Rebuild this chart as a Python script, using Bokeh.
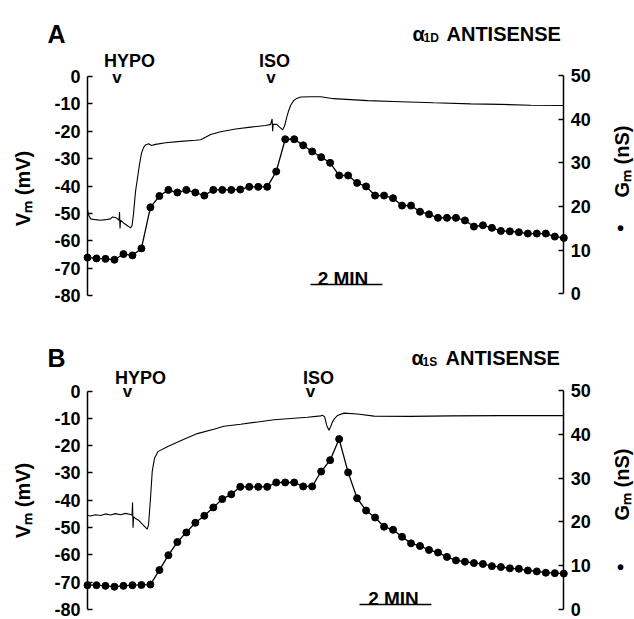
import math
from bokeh.plotting import figure
from bokeh.models import Range1d, LinearAxis, Label, FixedTicker
from bokeh.embed import file_html
from bokeh.resources import INLINE

FONT = "Liberation Sans"

# ---------------- data ----------------
# Gm sampled every 15 s (0.25 min), 54 samples, in minutes
gm_time = [i * 0.25 for i in range(54)]

gm_a = [8.3, 8.1, 8.0, 7.8, 9.1, 8.8, 10.4, 19.8, 22.4, 23.8,
        23.2, 23.8, 23.2, 22.5, 23.8, 23.8, 23.8, 23.9, 24.5, 24.5,
        24.5, 28.0, 35.4, 35.4, 34.0, 32.6, 31.3, 30.0, 27.1, 27.1,
        25.4, 24.6, 22.5, 22.5, 21.9, 20.2, 20.2, 18.8, 18.2, 17.4,
        17.4, 17.4, 16.8, 15.4, 15.7, 15.1, 14.4, 14.3, 14.1, 13.8,
        13.8, 13.8, 13.1, 12.8]

gm_b = [5.55, 5.55, 5.4, 5.2, 5.4, 5.55, 5.6, 5.7, 9.0, 12.4,
        15.4, 17.6, 19.8, 21.4, 23.3, 25.2, 26.3, 28.0, 28.0, 28.0,
        28.0, 29.0, 29.0, 29.0, 28.1, 28.1, 31.5, 34.1, 38.9, 31.3,
        25.4, 22.6, 21.0, 18.9, 18.2, 16.6, 15.1, 14.5, 13.6, 13.0,
        12.0, 11.2, 10.9, 10.6, 10.4, 9.9, 9.7, 9.4, 9.3, 8.9,
        8.7, 8.4, 8.3, 8.2]

# membrane potential trace, panel A (time in min, Vm in mV)
vm_a_t = [0.000, 0.028, 0.084, 0.223, 0.362, 0.501, 0.640, 0.696, 0.780, 0.835,
          0.877, 0.891, 0.905, 0.919, 1.002, 1.114, 1.197, 1.239, 1.281, 1.336,
          1.392, 1.448, 1.503, 1.559, 1.615, 1.698, 1.782, 1.893, 2.172, 2.589,
          3.007, 3.146, 3.285, 3.424, 3.703, 4.120, 4.538, 4.955, 5.095, 5.136,
          5.150, 5.164, 5.262, 5.345, 5.429, 5.484, 5.540, 5.596, 5.652, 5.735,
          5.819, 5.930, 6.208, 6.487, 6.849, 7.795, 8.714, 9.633, 10.663, 11.498,
          12.333, 13.252]
vm_a_v = [-48.5, -50.5, -52.0, -52.3, -52.5, -52.3, -52.0, -51.3, -51.5, -52.0,
          -52.5, -49.5, -55.5, -52.5, -53.5, -54.5, -55.3, -54.5, -50.0, -42.0,
          -37.0, -32.0, -28.0, -26.0, -25.0, -24.6, -25.2, -24.8, -24.2, -23.7,
          -23.3, -23.1, -22.2, -21.2, -20.2, -19.2, -18.5, -17.9, -17.5, -15.5,
          -20.0, -17.5, -17.5, -18.5, -19.5, -18.0, -15.0, -12.5, -10.5, -8.8,
          -8.0, -7.5, -7.4, -7.4, -8.1, -8.8, -9.2, -9.6, -10.0, -10.2,
          -10.5, -10.6]

# membrane potential trace, panel B
vm_b_t = [0.000, 0.084, 0.223, 0.362, 0.501, 0.640, 0.780, 0.919, 1.058, 1.197,
          1.239, 1.253, 1.267, 1.281, 1.336, 1.420, 1.503, 1.587, 1.662, 1.698,
          1.754, 1.801, 1.865, 1.957, 2.219, 2.589, 3.054, 3.516, 3.795, 4.259,
          5.187, 6.116, 6.487, 6.542, 6.598, 6.654, 6.718, 6.765, 6.813, 6.877,
          6.952, 7.136, 7.508, 7.971, 8.992, 10.106, 11.498, 13.252]
vm_b_v = [-45.5, -45.8, -45.3, -45.6, -45.0, -45.4, -44.9, -45.3, -44.8, -45.2,
          -45.5, -40.8, -50.1, -46.0, -46.7, -47.3, -48.5, -49.6, -50.6, -49.0,
          -39.0, -29.4, -24.6, -22.2, -20.4, -18.2, -15.6, -14.0, -12.9, -12.2,
          -10.5, -9.6, -9.1, -8.9, -9.5, -12.6, -14.4, -13.0, -11.4, -10.0,
          -9.0, -8.1, -8.4, -9.2, -9.3, -9.1, -9.0, -9.0]

vm_ticks = [-80, -70, -60, -50, -40, -30, -20, -10, 0]
vm_tick_labels = ["-80", "-70", "-60", "-50", "-40", "-30", "-20", "-10", "0"]
gm_ticks = [0, 10, 20, 30, 40, 50]
gm_tick_labels = ["0", "10", "20", "30", "40", "50"]

T_MAX = 13.25
SCALE_MIN = 2.0

# ---------------- layout (pixels) ----------------
W, H = 634, 619
X0, X1 = 87.0, 563.3          # pixel x of t=0 and t=T_MAX
K = (X1 - X0) / T_MAX


def yrange(top_px, bot_px, lo, hi):
    s = (hi - lo) / (bot_px - top_px)
    return Range1d(lo - (H - bot_px) * s, hi + top_px * s)


p = figure(width=W, height=H, output_backend="svg", toolbar_location=None,
           x_range=Range1d(-X0 / K, (W - X0) / K),
           y_range=yrange(76.0, 295.0, -80, 0),
           x_axis_type=None, y_axis_type=None,
           min_border=0, min_border_left=0, min_border_right=0,
           min_border_top=0, min_border_bottom=0)
p.outline_line_color = None
p.background_fill_color = "white"
p.border_fill_color = "white"
p.extra_y_ranges = {
    "gmA": yrange(75.0, 293.3, 0, 50),
    "vmB": yrange(390.5, 609.0, -80, 0),
    "gmB": yrange(390.0, 609.0, 0, 50),
    "px": Range1d(H, 0),
}
p.extra_x_ranges = {"px": Range1d(0, W)}


def add_axis(side, rng, loc, ticks, labels, bounds):
    ax = LinearAxis(y_range_name=rng, fixed_location=loc, bounds=bounds,
                    ticker=FixedTicker(ticks=ticks),
                    major_label_overrides=dict(zip(ticks, labels)))
    ax.axis_line_width = 1.5
    ax.axis_line_color = "black"
    ax.major_tick_in = 5
    ax.major_tick_out = 0
    ax.major_tick_line_width = 1.5
    ax.major_tick_line_color = "black"
    ax.minor_tick_line_color = None
    ax.major_label_text_font = FONT
    ax.major_label_text_font_size = "18px"
    ax.major_label_text_font_style = "bold"
    ax.major_label_text_color = "black"
    ax.major_label_standoff = 7
    p.add_layout(ax, side)


add_axis("left", "default", 0, vm_ticks, vm_tick_labels, (-80, 0))
add_axis("right", "gmA", T_MAX, gm_ticks, gm_tick_labels, (0, 50))
add_axis("left", "vmB", 0, vm_ticks, vm_tick_labels, (-80, 0))
add_axis("right", "gmB", T_MAX, gm_ticks, gm_tick_labels, (0, 50))

# traces and conductance
p.line(vm_a_t, vm_a_v, line_color="black", line_width=1.1)
p.line(vm_b_t, vm_b_v, y_range_name="vmB", line_color="black", line_width=1.1)
for gm, rng in ((gm_a, "gmA"), (gm_b, "gmB")):
    p.line(gm_time, gm, y_range_name=rng, line_color="black", line_width=1.3)
    p.scatter(gm_time, gm, y_range_name=rng, size=7, marker="circle",
              fill_color="black", line_color="black")


def txt(px, py, s, size, align="left", baseline="alphabetic", angle=0.0, style="bold"):
    p.add_layout(Label(x=px, y=py, x_range_name="px", y_range_name="px", text=s,
                       text_font=FONT, text_font_size=size, text_font_style=style,
                       text_align=align, text_baseline=baseline, text_color="black",
                       angle=angle))


ANN = [
    dict(letter="A", letter_y=33, hypo_x=129, hypo_v=116.5, iso_x=274, iso_v=270.5,
         lab_y=60, v_y=77, alpha_x=412, title_y=33, sub="1D", vm_y=188, gm_y=161, dot_y=227,
         bar_x=310, bar_y=284, bar_lab_x=342.5, bar_lab_y=278),
    dict(letter="B", letter_y=357, hypo_x=140, hypo_v=127, iso_x=318, iso_v=310,
         lab_y=377, v_y=391, alpha_x=411, title_y=357, sub="1S", vm_y=500, gm_y=484, dot_y=566,
         bar_x=359, bar_y=604, bar_lab_x=393, bar_lab_y=598),
]

for a in ANN:
    txt(47, a["letter_y"], a["letter"], "25px")
    txt(a["hypo_x"], a["lab_y"], "HYPO", "18px", align="center")
    txt(a["hypo_v"], a["v_y"], "v", "17px", align="center")
    txt(a["iso_x"], a["lab_y"], "ISO", "18px", align="center")
    txt(a["iso_v"], a["v_y"], "v", "17px", align="center")
    txt(a["alpha_x"], a["title_y"], "\u03b1", "20px")
    txt(a["alpha_x"] + 11, a["title_y"] + 4, a["sub"], "12px")
    txt(a["alpha_x"] + 34, a["title_y"], "ANTISENSE", "20px")
    txt(22, a["vm_y"], "V\u2098 (mV)", "20px", align="center", baseline="middle",
        angle=math.pi / 2)
    txt(621, a["gm_y"], "G\u2098 (nS)", "20px", align="center", baseline="middle",
        angle=math.pi / 2)
    txt(620, a["dot_y"], "\u2022", "20px", align="center", baseline="middle")
    # 2-minute scale bar (length in data minutes)
    t0 = (a["bar_x"] - X0) / K
    p.line([t0, t0 + SCALE_MIN], [a["bar_y"], a["bar_y"]], y_range_name="px",
           line_color="black", line_width=1.6)
    txt(a["bar_lab_x"], a["bar_lab_y"], "2 MIN", "19px", align="center")

open("out.html", "w").write(file_html(p, INLINE))
